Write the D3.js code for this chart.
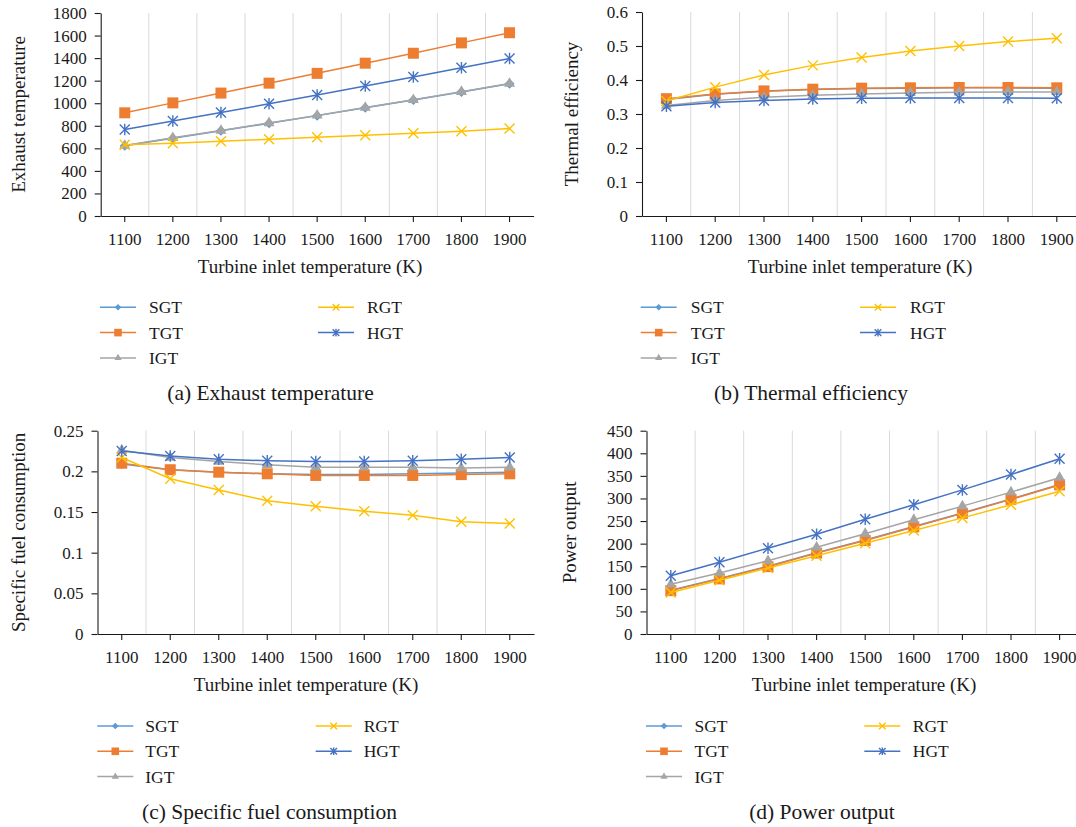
<!DOCTYPE html>
<html>
<head>
<meta charset="utf-8">
<script src="https://cdn.jsdelivr.net/npm/d3@7"></script>
<style>
    body { margin: 0; background: #fff; }
    svg { display: block; font-family: "Liberation Serif", "Times New Roman", serif; }
</style>
</head>
<body>
<div id="chart"></div>
<script>
/*-------------------- Data --------------------*/

var temperatures = [1100, 1200, 1300, 1400, 1500, 1600, 1700, 1800, 1900];
var seriesNames = ["SGT", "TGT", "IGT", "RGT", "HGT"];

// (a) exhaust temperature
var exhaustSGT = [622, 690, 755, 822, 890, 960, 1028, 1100, 1172];
var exhaustTGT = [915, 1003, 1090, 1178, 1265, 1355, 1443, 1535, 1625];
var exhaustIGT = [625, 693, 758, 825, 892, 962, 1030, 1102, 1175];
var exhaustRGT = [632, 645, 662, 680, 698, 715, 733, 752, 775];
var exhaustHGT = [768, 843, 918, 995, 1072, 1152, 1232, 1315, 1397];

// (b) thermal efficiency
var effSGT = [0.343, 0.358, 0.367, 0.372, 0.375, 0.376, 0.377, 0.377, 0.376];
var effTGT = [0.345, 0.359, 0.368, 0.373, 0.376, 0.377, 0.378, 0.378, 0.377];
var effIGT = [0.325, 0.340, 0.349, 0.355, 0.359, 0.362, 0.364, 0.365, 0.365];
var effRGT = [0.338, 0.379, 0.415, 0.443, 0.466, 0.485, 0.500, 0.513, 0.523];
var effHGT = [0.323, 0.334, 0.340, 0.344, 0.346, 0.347, 0.347, 0.347, 0.346];

// (c) specific fuel consumption
var sfcSGT = [0.209, 0.202, 0.199, 0.197, 0.196, 0.196, 0.197, 0.198, 0.199];
var sfcTGT = [0.210, 0.202, 0.199, 0.197, 0.195, 0.195, 0.195, 0.196, 0.197];
var sfcIGT = [0.226, 0.217, 0.212, 0.208, 0.205, 0.205, 0.205, 0.204, 0.205];
var sfcRGT = [0.217, 0.191, 0.177, 0.164, 0.157, 0.151, 0.146, 0.138, 0.136];
var sfcHGT = [0.225, 0.219, 0.215, 0.213, 0.212, 0.212, 0.213, 0.215, 0.217];

// (d) power output
var powerSGT = [97, 123, 150, 180, 208, 238, 268, 299, 331];
var powerTGT = [96, 122, 149, 179, 207, 237, 267, 298, 330];
var powerIGT = [110, 135, 162, 192, 222, 253, 283, 314, 346];
var powerRGT = [92, 119, 146, 173, 201, 229, 257, 286, 316];
var powerHGT = [129, 159, 190, 221, 254, 286, 319, 353, 388];

// y tick labels
var ticksExhaust = [0, 200, 400, 600, 800, 1000, 1200, 1400, 1600, 1800];
var ticksEff = [0, 0.1, 0.2, 0.3, 0.4, 0.5, 0.6];
var ticksSfc = [0, 0.05, 0.1, 0.15, 0.2, 0.25];
var ticksPower = [0, 50, 100, 150, 200, 250, 300, 350, 400, 450];

var xTitle = "Turbine inlet temperature (K)";

/*-------------------- Styles --------------------*/

var colors = {SGT: "#5B9BD5", TGT: "#ED7D31", IGT: "#A5A5A5", RGT: "#FFC000", HGT: "#4472C4"};

var svg;

function markerPath(name, s) {
    // s = half size of the marker
    if (name === "SGT") return `M0,${-s}L${s},0L0,${s}L${-s},0Z`;
    if (name === "TGT") return d3.symbol(d3.symbolSquare, 4 * s * s)();
    if (name === "IGT") return d3.symbol(d3.symbolTriangle, 2.1 * s * s)();
    if (name === "RGT") return `M${-s},${-s}L${s},${s}M${-s},${s}L${s},${-s}`;
    return `M${-s},${-s}L${s},${s}M${-s},${s}L${s},${-s}M0,${-s * 1.15}L0,${s * 1.15}`;
}

function isStroked(name) {
    return name === "RGT" || name === "HGT";
}

function drawMarker(g, name, x, y, s) {
    var p = g.append("path")
        .attr("transform", "translate(" + x + "," + y + ")")
        .attr("d", markerPath(name, s));
    if (isStroked(name)) {
        p.attr("fill", "none").attr("stroke", colors[name]).attr("stroke-width", 1.4);
    } else {
        p.attr("fill", colors[name]);
    }
}

/*-------------------- Panels --------------------*/

function drawPanel(p) {
    var g = svg.append("g");

    var xScale = d3.scaleBand()
        .domain(temperatures)
        .range([p.left, p.left + p.step * temperatures.length])
        .padding(0);
    var yScale = d3.scaleLinear()
        .domain([0, p.ticks[p.ticks.length - 1]])
        .range([p.bottom, p.top]);
    var cx = d => xScale(d) + xScale.bandwidth() / 2;

    // vertical gridlines between categories
    g.append("g").selectAll("line")
        .data(temperatures.slice(1))
        .enter()
        .append("line")
        .attr("x1", d => xScale(d)).attr("x2", d => xScale(d))
        .attr("y1", p.top).attr("y2", p.bottom)
        .attr("stroke", "#d9d9d9")
        .attr("stroke-width", 1);

    // axes
    var xAxis = g.append("g")
        .attr("transform", "translate(0," + p.bottom + ")")
        .call(d3.axisBottom(xScale).tickSizeInner(6).tickSizeOuter(0).tickPadding(11));
    var yAxis = g.append("g")
        .attr("transform", "translate(" + p.left + ",0)")
        .call(d3.axisLeft(yScale).tickValues(p.ticks).tickSizeInner(6).tickSizeOuter(0).tickPadding(8).tickFormat(d => d));
    [xAxis, yAxis].forEach(function(a) {
        a.selectAll("path, line").attr("stroke", "#1a1a1a").attr("stroke-width", 1.1);
        a.selectAll("text").attr("fill", "#1a1a1a").style("font-size", "17px").style("font-family", "Liberation Serif");
    });

    // axis titles
    g.append("text")
        .attr("x", p.xTitleX)
        .attr("y", p.bottom + 57)
        .attr("text-anchor", "middle")
        .style("font-size", "19px")
        .attr("fill", "#1a1a1a")
        .text(xTitle);
    g.append("text")
        .attr("transform", "translate(" + p.yTitleX + "," + ((p.top + p.bottom) / 2) + ") rotate(-90)")
        .attr("text-anchor", "middle")
        .attr("dominant-baseline", "central")
        .style("font-size", "19px")
        .attr("fill", "#1a1a1a")
        .text(p.yTitle);

    // series: line then markers, in order
    seriesNames.forEach(function(name, i) {
        var values = p.values[i];
        var line = d3.line()
            .x((d, j) => cx(temperatures[j]))
            .y(d => yScale(d));
        g.append("path")
            .datum(values)
            .attr("d", line)
            .attr("fill", "none")
            .attr("stroke", colors[name])
            .attr("stroke-width", 1.5);
        var mg = g.append("g");
        values.forEach(function(v, j) {
            drawMarker(mg, name, cx(temperatures[j]), yScale(v), name === "TGT" ? 5.5 : 5);
        });
    });

    // legend
    var leg = g.append("g");
    var legendPos = [[0, 0], [0, 1], [0, 2], [1, 0], [1, 1]];
    seriesNames.forEach(function(name, i) {
        var col = legendPos[i][0], row = legendPos[i][1];
        var lx = p.legendX[col];
        var ly = p.legendY + row * 25.3;
        leg.append("line")
            .attr("x1", lx).attr("x2", lx + 36)
            .attr("y1", ly).attr("y2", ly)
            .attr("stroke", colors[name])
            .attr("stroke-width", 1.5);
        drawMarker(leg, name, lx + 18, ly, name === "TGT" ? 3.8 : 3.3);
        leg.append("text")
            .attr("x", lx + p.legendGap)
            .attr("y", ly)
            .attr("dominant-baseline", "central")
            .style("font-size", "17.5px")
            .attr("fill", "#1a1a1a")
            .text(name);
    });

    // caption
    g.append("text")
        .attr("x", p.captionX)
        .attr("y", p.captionY)
        .attr("text-anchor", "middle")
        .attr("dominant-baseline", "central")
        .style("font-size", "21.5px")
        .attr("fill", "#1a1a1a")
        .text(p.caption);
}

function initialize() {
    svg = d3.select("#chart").append("svg")
        .attr("width", 1076)
        .attr("height", 827);
    svg.append("rect").attr("width", 1076).attr("height", 827).attr("fill", "#fff");

    var panels = [
        {values: [exhaustSGT, exhaustTGT, exhaustIGT, exhaustRGT, exhaustHGT], ticks: ticksExhaust,
         left: 100.7, step: 48.1, top: 13, bottom: 216, yTitle: "Exhaust temperature", yTitleX: 18, xTitleX: 310,
         legendX: [100, 318], legendY: 307.3, legendGap: 49, captionX: 270.5, captionY: 393.3,
         caption: "(a) Exhaust temperature"},
        {values: [effSGT, effTGT, effIGT, effRGT, effHGT], ticks: ticksEff,
         left: 642, step: 48.8, top: 12, bottom: 216, yTitle: "Thermal efficiency", yTitleX: 571, xTitleX: 860,
         legendX: [640.7, 860], legendY: 307.3, legendGap: 50, captionX: 811, captionY: 393.3,
         caption: "(b) Thermal efficiency"},
        {values: [sfcSGT, sfcTGT, sfcIGT, sfcRGT, sfcHGT], ticks: ticksSfc,
         left: 97.5, step: 48.5, top: 430.7, bottom: 634, yTitle: "Specific fuel consumption", yTitleX: 18, xTitleX: 306,
         legendX: [97.3, 315.7], legendY: 726, legendGap: 48, captionX: 269.5, captionY: 811.7,
         caption: "(c) Specific fuel consumption"},
        {values: [powerSGT, powerTGT, powerIGT, powerRGT, powerHGT], ticks: ticksPower,
         left: 646.5, step: 48.6, top: 430.7, bottom: 634, yTitle: "Power output", yTitleX: 569, xTitleX: 864,
         legendX: [646, 864.3], legendY: 726, legendGap: 48.5, captionX: 822, captionY: 811.7,
         caption: "(d) Power output"}
    ];
    panels.forEach(drawPanel);
}

initialize();
</script>
</body>
</html>
